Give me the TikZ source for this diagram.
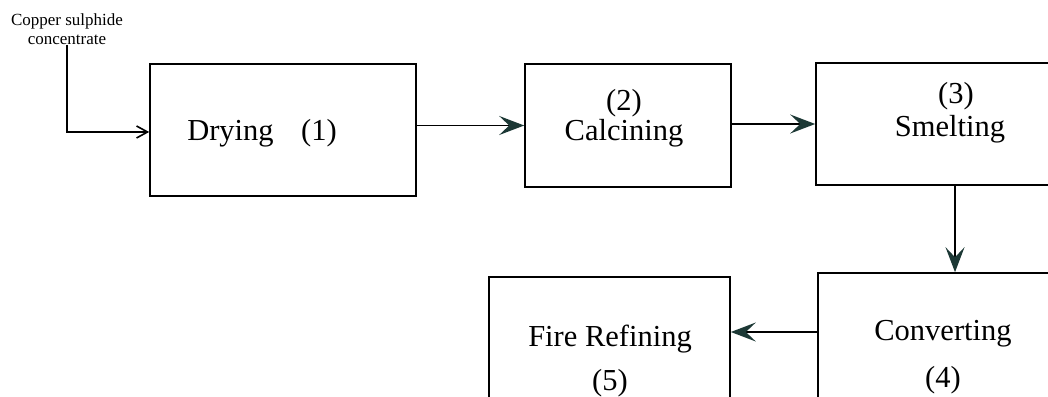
\documentclass[tikz,border=0pt]{standalone}
\usepackage{fontspec}
\setmainfont{Liberation Serif}
\usetikzlibrary{arrows.meta}
\definecolor{headcol}{HTML}{1C3835}
\tikzset{
  x=1pt, y=1pt,
  box/.style={draw, line width=1.6pt, rectangle, inner sep=0pt},
  lbl/.style={font=\fontsize{30.5}{32}\selectfont, inner sep=0pt},
  flow/.style={line width=1.6pt, -{Stealth[length=25pt, width=19pt, inset=10pt, color=headcol]}},
  feed/.style={line width=1.6pt, -{Straight Barb[length=11pt, width=12pt]}},
}
\begin{document}
\begin{tikzpicture}
  \useasboundingbox (0,0) rectangle (1048,396);
  \clip (0,0) rectangle (1048,396);

  % process boxes
  \node[box, minimum width=266pt, minimum height=132pt] (dry)  at (283,266)   {};
  \node[box, minimum width=206pt, minimum height=123pt] (calc) at (628,270.5) {};
  \node[box, minimum width=280pt, minimum height=122pt] (smel) at (956,272)   {};
  \node[box, minimum width=250pt, minimum height=147pt] (conv) at (943,49.5)  {};
  \node[box, minimum width=241pt, minimum height=143pt] (fire) at (609.5,47.5){};

  % box captions
  \node[lbl, anchor=base] (drytxt)  at (262,255) {Drying\hspace{0.9em}(1)};
  \node[lbl, anchor=base] (calcn)   at (624,285) {(2)};
  \node[lbl, anchor=base] (calct)   at (624,255) {Calcining};
  \node[lbl, anchor=base] (smeln)   at (956,292) {(3)};
  \node[lbl, anchor=base] (smelt)   at (950,259) {Smelting};
  \node[lbl, anchor=base] (convt)   at (943,56)  {Converting};
  \node[lbl, anchor=base] (convn)   at (943,9)   {(4)};
  \node[lbl, anchor=base] (firet)   at (610,50)  {Fire Refining};
  \node[lbl, anchor=base] (firen)   at (610,6)   {(5)};

  % feed material
  \node[font=\fontsize{17}{19.5}\selectfont, align=center, inner sep=0pt]
    (src) at (67,367) {Copper sulphide\\concentrate};

  % connectors
  \draw[feed] (src.south) |- ([yshift=-2pt]dry.west);
  \draw[flow] (dry.east |- calc.west) -- (calc.west);
  \draw[flow] (calc.east |- smel.west) -- (smel.west);
  \draw[flow] ([xshift=-1pt]smel.south) -- ([xshift=-1pt]smel.south |- conv.north);
  \draw[flow] ([yshift=14.5pt]conv.west) -- ([yshift=14.5pt]conv.west -| fire.east);
\end{tikzpicture}
\end{document}
